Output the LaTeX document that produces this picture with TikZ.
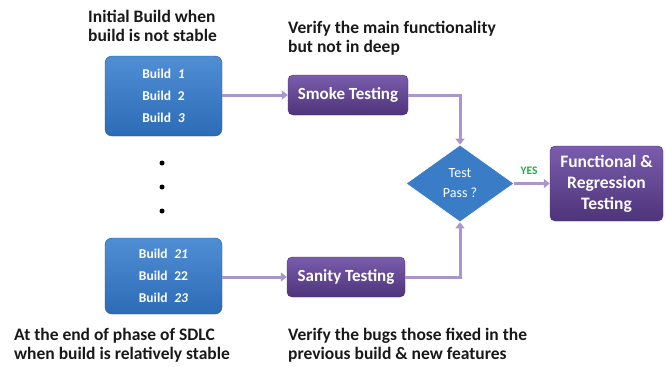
\documentclass[tikz,border=0pt]{standalone}
\usepackage{fontspec}
\setmainfont{Carlito}
\usetikzlibrary{shapes.geometric,arrows.meta,positioning}
\definecolor{bluebox}{RGB}{58,124,198}
\definecolor{bluetop}{RGB}{80,142,212}
\definecolor{bluebot}{RGB}{44,108,182}
\definecolor{purtop}{RGB}{122,92,172}
\definecolor{purbot}{RGB}{78,52,122}
\definecolor{conn}{RGB}{170,150,205}
\definecolor{yesgreen}{RGB}{40,170,70}
\definecolor{txt}{RGB}{25,25,25}
\tikzset{
  buildbox/.style={rectangle, rounded corners=7pt, top color=bluetop, bottom color=bluebot, draw=bluebot!80!black, line width=0.4pt, minimum width=117pt, minimum height=80pt, text=white, font=\bfseries\fontsize{13.5}{22}\selectfont, align=center, inner sep=0pt},
  testbox/.style={rectangle, rounded corners=5pt, top color=purtop, bottom color=purbot, draw=purbot, line width=0.4pt, minimum width=120pt, minimum height=40pt, text=white, font=\bfseries\fontsize{17}{20}\selectfont, align=center, inner sep=0pt},
  bigbox/.style={testbox, minimum width=113pt, minimum height=75pt, font=\bfseries\fontsize{17.5}{21}\selectfont},
  decision/.style={diamond, aspect=1.4, minimum width=108pt, minimum height=77pt, inner sep=0pt, fill=bluebox, draw=white, line width=0.6pt, text=white, font=\fontsize{14}{20}\selectfont, align=center},
  note/.style={anchor=base west, align=left, text=txt, font=\bfseries\fontsize{17.5}{19.5}\selectfont, inner sep=0pt},
  flow/.style={draw=conn, line width=3pt, -{Triangle[length=6pt,width=9pt]}},
  dot/.style={circle, fill=black, minimum size=5pt, inner sep=0pt}
}
\begin{document}
\begin{tikzpicture}[x=1pt,y=-1pt]
\useasboundingbox (0,0) rectangle (665,367);
\fill[white] (0,0) rectangle (665,367);
% notes (anchor = baseline of last line)
\node[note] (n1) at (88,41.5) {Initial Build when\\build is not stable};
\node[note] (n2) at (288,52.5) {Verify the main functionality\\but not in deep};
\node[note] (n3) at (14,359.5) {At the end of phase of SDLC\\when build is relatively stable};
\node[note] (n4) at (288,359.5) {Verify the bugs those fixed in the\\previous build \& new features};
% boxes
\node[buildbox] (b1) at (163.5,96) {Build\enspace\textit{1}\\Build\enspace 2\\Build\enspace\textit{3}};
\node[buildbox, minimum height=76pt] (b2) at (163.5,276) {Build\enspace\textit{21}\\Build\enspace 22\\Build\enspace\textit{23}};
\node[testbox] (smoke) at (348,95) {Smoke Testing};
\node[testbox, minimum width=118pt] (sanity) at (346,277) {Sanity Testing};
\node[decision] (dec) at (460,183.5) {Test\\Pass ?};
\node[bigbox] (func) at (606.5,183.5) {Functional \&\\Regression\\Testing};
% dots
\node[dot] (d1) at (162,163) {};
\node[dot] (d2) at (162,187) {};
\node[dot] (d3) at (162,211) {};
% connectors
\draw[flow] (b1.east |- smoke.west) -- (smoke.west);
\draw[flow] (b2.east |- sanity.west) -- (sanity.west);
\draw[flow] (smoke.east) -| (dec.north);
\draw[flow] (sanity.east) -| (dec.south);
\draw[flow] (dec.east) -- (func.west);
\node[text=yesgreen, font=\bfseries\fontsize{11.5}{12}\selectfont] (yes) at (529,171) {YES};
\end{tikzpicture}
\end{document}
